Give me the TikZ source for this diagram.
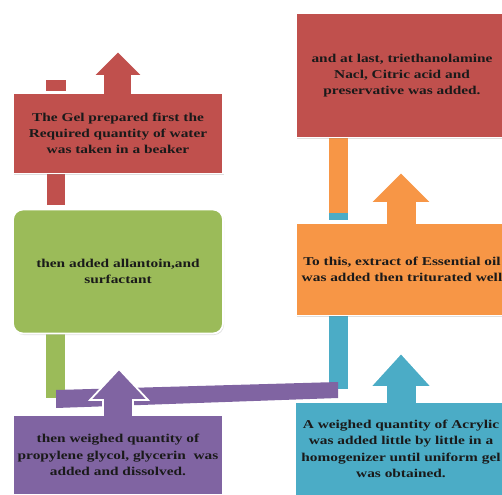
\documentclass[tikz,border=0pt]{standalone}
\usepackage{fontspec}
\setmainfont[FakeStretch=1.28]{Liberation Serif}
\usetikzlibrary{shadows}
\definecolor{cred}{HTML}{C0504D}
\definecolor{cgreen}{HTML}{9BBB59}
\definecolor{cpurple}{HTML}{8064A2}
\definecolor{cblue}{HTML}{4BACC6}
\definecolor{corange}{HTML}{F79646}
\definecolor{ctext}{HTML}{1A1A1A}
\tikzset{
  box/.style={draw=white, line width=1.8pt, inner sep=0pt, align=center,
    text=ctext, font=\bfseries\fontsize{12}{16.3}\selectfont,
    drop shadow={shadow xshift=1pt, shadow yshift=-1.5pt, opacity=0.25}},
  arrowshape/.style={draw=white, line width=1.8pt, line join=miter},
}
\begin{document}
\begin{tikzpicture}[x=1pt,y=-1pt]
\useasboundingbox (0,0) rectangle (502,494);
\clip (0,0) rectangle (502,494);

% connectors
\fill[cred] (46,80) rectangle (66,91);
\fill[cred] (47,173) rectangle (65,205);
\fill[cgreen] (46,333) rectangle (65,398);
\fill[corange] (329,137) rectangle (348,220);
\fill[cblue] (329,213) rectangle (348,220);
\fill[cblue] (329,315) rectangle (348,389);
\fill[cpurple] (56,390) -- (338,382) -- (338,398) -- (56,408) -- cycle;

% arrows
\newcommand{\uparr}[8]{%
  \filldraw[fill=#1, arrowshape] (#2,#3) -- (#4,#5) -- (#6,#5) -- (#6,#8) -- (#7,#8) -- (#7,#5) -- ({2*#2-#4},#5) -- cycle;
  \fill[#1] (#6+0.9,#8-3) rectangle (#7-0.9,#8+3);}
% color, tipx, tipy, headleft, headbase, shaftleft, shaftright, boxtop

% boxes
\node[box, fill=cred, minimum width=210pt, minimum height=80pt] (r1) at (118,133.5)
  {The Gel prepared first the\\Required quantity of water\\was taken in a beaker};
\uparr{cred}{118}{51}{93}{76}{103}{132}{93}

\node[box, fill=cgreen, rounded corners=10pt, minimum width=210pt, minimum height=124pt] (g) at (118,271.5)
  {then added allantoin,and\\surfactant};

\node[box, fill=cpurple, minimum width=210pt, minimum height=80pt] (p) at (118,455)
  {then weighed quantity of\\propylene glycol, glycerin~ was\\added and dissolved.};
\uparr{cpurple}{119}{369}{90}{400}{103}{133}{415}

\node[box, fill=cblue, minimum width=212pt, minimum height=94pt] (b) at (401,449)
  {A weighed quantity of Acrylic\\was added little by little in a\\homogenizer until uniform gel\\was obtained.};
\uparr{cblue}{401}{353}{370}{387}{386}{417}{402}

\node[box, fill=corange, minimum width=212pt, minimum height=92pt] (o) at (402,269.5)
  {To this, extract of Essential oil\\was added then triturated well};
\uparr{corange}{401}{172}{370}{203}{386}{417}{223}

\node[box, fill=cred, minimum width=212pt, minimum height=124pt] (r2) at (402,75.5)
  {and at last, triethanolamine\\Nacl, Citric acid and\\preservative was added.};
\end{tikzpicture}
\end{document}
